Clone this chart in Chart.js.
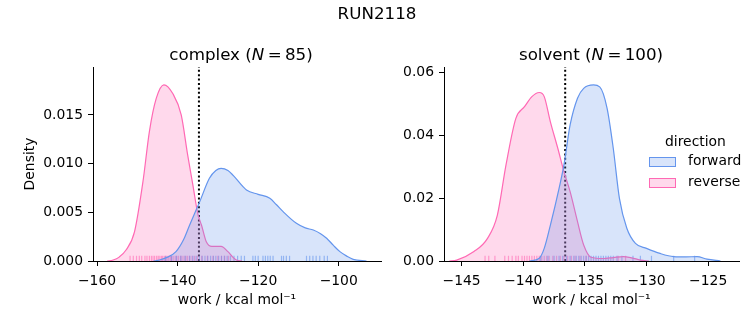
<!DOCTYPE html>
<html>
<head>
<meta charset="utf-8">
<script src="https://cdn.jsdelivr.net/npm/chart.js@4/dist/chart.umd.min.js"></script>
<style>
  body { margin: 0; background: #fff; }
  #wrap { position: relative; width: 753px; height: 325px; overflow: hidden; font-family: "DejaVu Sans", sans-serif; color: #000; }
  canvas { position: absolute; top: 0; }
  .ttl { position: absolute; font-size: 16.7px; white-space: nowrap; transform: translate(-50%, -50%); line-height: 1; }
  .leg { position: absolute; font-size: 13.9px; white-space: nowrap; line-height: 1; }
  .patch { position: absolute; width: 27px; height: 10px; box-sizing: border-box; border: 1px solid; }
</style>
</head>
<body>
<div id="wrap">
  <canvas id="complexChart" width="390" height="325" style="left:0;width:390px;height:325px"></canvas>
  <canvas id="solventChart" width="373" height="325" style="left:380px;width:373px;height:325px"></canvas>

  <div class="ttl" style="left:377px;top:13px">RUN2118</div>
  <div class="ttl" style="left:241px;top:54px">complex (<i>N</i>&#8201;=&#8201;85)</div>
  <div class="ttl" style="left:591px;top:54px">solvent (<i>N</i>&#8201;=&#8201;100)</div>

  <div class="leg" style="left:665px;top:135px">direction</div>
  <div class="patch" style="left:649px;top:157px;background:rgba(100,149,237,0.25);border-color:#6495ED"></div>
  <div class="leg" style="left:688px;top:154px">forward</div>
  <div class="patch" style="left:649px;top:178px;background:rgba(255,105,180,0.25);border-color:#FF69B4"></div>
  <div class="leg" style="left:688px;top:175px">reverse</div>
</div>

<script>
//		Colours for the two directions.
var fwdColour = '#6495ED';
var revColour = '#FF69B4';

//		complex leg: KDE curves.
var complexFwdX = [-146, -144.5, -142.5, -140.4, -138.5, -137.0, -134.5, -132.1, -130.5, -129.2, -127.5, -126.2, -122.9, -120.0, -117.1, -115.5, -113.8, -110.5, -108.3, -106.3, -104.5, -103.0, -101.3, -99.7, -98.0, -96.4, -93.1];
var complexFwdY = [0, 0.0001, 0.0004, 0.00096, 0.0022, 0.0037, 0.0061, 0.0085, 0.0093, 0.00952, 0.0093, 0.0088, 0.0073, 0.00685, 0.00644, 0.0058, 0.00507, 0.00387, 0.0034, 0.00318, 0.0028, 0.00233, 0.0016, 0.00096, 0.0005, 0.00017, 0];
var complexRevX = [-157.5, -156.0, -154.5, -152.8, -150.7, -148.6, -147.0, -145.3, -143.4, -141.2, -139.1, -137.5, -136.2, -135.0, -134.0, -132.9, -131.5, -129.2, -127.5, -126.3, -125.4, -124.0];
var complexRevY = [0, 0.0001, 0.0004, 0.00113, 0.003, 0.00815, 0.0133, 0.0167, 0.0181, 0.0172, 0.015, 0.0109, 0.0078, 0.0049, 0.0036, 0.002, 0.0015, 0.0015, 0.00096, 0.0004, 0.0001, 0];

//		solvent leg: KDE curves.
var solventFwdX = [-139.5, -138.7, -138.3, -137.8, -137.1, -136.7, -136.2, -135.6, -135.1, -134.3, -133.8, -133.2, -132.7, -132.2, -131.6, -130.9, -130.0, -128.9, -127.8, -126.8, -125.9, -125.1, -124.0];
var solventFwdY = [0, 0.0009, 0.004, 0.0114, 0.023, 0.0305, 0.0432, 0.0517, 0.0548, 0.0559, 0.0553, 0.0485, 0.0358, 0.0199, 0.0104, 0.0056, 0.004, 0.0024, 0.0014, 0.0013, 0.0014, 0.0006, 0];
var solventRevX = [-146.0, -145.4, -144.0, -142.9, -142.1, -141.4, -140.6, -139.9, -139.3, -138.7, -138.3, -137.8, -137.2, -136.7, -136.2, -135.6, -135.1, -134.5, -133.5, -132.7, -131.9, -131.2, -130.5, -129.8];
var solventRevY = [0, 0.0003, 0.003, 0.0072, 0.0146, 0.0305, 0.0453, 0.049, 0.0522, 0.0535, 0.0522, 0.0442, 0.0358, 0.0284, 0.022, 0.0125, 0.0051, 0.0012, 0.0008, 0.0011, 0.0014, 0.001, 0.0003, 0];

//		Rug ticks (individual work values).
var complexFwdRug = [-143.0, -141.5, -140.3, -139.2, -138.1, -137.0, -136.2, -135.4, -134.6, -133.9, -133.2, -132.5, -131.8, -131.1, -130.5, -129.8, -129.1, -128.4, -127.7, -126.9, -126.0, -125.1, -124.2, -123.4, -121.3, -120.7, -120.0, -118.8, -118.2, -117.6, -117.0, -116.3, -114.2, -113.7, -113.0, -112.2, -108.0, -107.2, -106.4, -105.6, -104.7, -103.6, -102.8];
var complexRevRug = [-151.8, -151.0, -150.2, -149.5, -148.9, -148.1, -147.6, -147.0, -146.5, -146.1, -145.7, -145.2, -144.8, -144.4, -144.0, -143.7, -143.3, -142.9, -142.6, -142.2, -141.8, -141.5, -141.1, -140.6, -140.2, -139.8, -139.3, -138.9, -138.4, -137.9, -137.5, -137.0, -136.4, -135.8, -135.1, -134.0, -132.6, -131.2, -130.0, -129.1, -128.3, -127.4];
var solventFwdRug = [-138.6, -138.0, -137.5, -137.1, -136.8, -136.5, -136.2, -135.9, -135.7, -135.5, -135.3, -135.1, -134.9, -134.7, -134.5, -134.3, -134.1, -133.9, -133.7, -133.5, -133.3, -133.1, -132.9, -132.7, -132.4, -132.0, -131.1, -130.5, -129.6, -127.8, -126.1];
var solventRevRug = [-143.1, -142.8, -142.3, -141.5, -141.2, -140.9, -140.6, -140.4, -140.1, -139.9, -139.7, -139.5, -139.3, -139.1, -138.9, -138.7, -138.5, -138.3, -138.1, -137.9, -137.6, -137.3, -137.0, -136.7, -136.4, -136.1, -135.8, -135.4, -134.9, -132.3, -131.7];

//		Dotted reference line (free energy estimate).
var complexCut = -134.7;
var solventCut = -136.6;

//		Axis ranges and tick values.
var complexXRange = [-161, -89.5];
var complexYMax   = 0.01993;
var complexXTicks = [-160, -140, -120, -100];
var complexYTicks = [0, 0.005, 0.010, 0.015];
var solventXRange = [-146.43, -122.5];
var solventYMax   = 0.0616;
var solventXTicks = [-145, -140, -135, -130, -125];
var solventYTicks = [0, 0.02, 0.04, 0.06];

var fontBase = { family: "'DejaVu Sans', sans-serif", size: 13.9 };

function pts(xs, ys) {
    return xs.map(function (x, i) { return { x: x, y: ys[i] }; });
}

function rugPts(vals, yPos) {
    return vals.map(function (v) { return { x: v, y: yPos }; });
}

function kdeSet(xs, ys, colour, fill) {
    return {
        data: pts(xs, ys),
        borderColor: colour,
        backgroundColor: fill,
        borderWidth: 1.2,
        pointRadius: 0,
        fill: 'origin',
        cubicInterpolationMode: 'monotone'
    };
}

function rugSet(vals, yPos, colour) {
    return {
        data: rugPts(vals, yPos),
        showLine: false,
        pointStyle: 'line',
        pointRotation: 90,
        pointRadius: 2.6,
        pointBorderWidth: 1.2,
        pointBorderColor: colour,
        pointBackgroundColor: colour
    };
}

function minusFmt(v) {
    return v < 0 ? '\u2212' + Math.abs(v) : String(v);
}

function makeChart(id, cfg) {
    var ctx = document.getElementById(id);
    var rugY = cfg.yMax * 0.0135;
    return new Chart(ctx, {
        type: 'line',
        data: {
            datasets: [
                kdeSet(cfg.fwdX, cfg.fwdY, fwdColour, 'rgba(100,149,237,0.25)'),
                kdeSet(cfg.revX, cfg.revY, revColour, 'rgba(255,105,180,0.25)'),
                rugSet(cfg.fwdRug, rugY, 'rgba(100,149,237,0.6)'),
                rugSet(cfg.revRug, rugY, 'rgba(255,105,180,0.6)'),
                {
                    data: [{ x: cfg.cut, y: 0 }, { x: cfg.cut, y: cfg.yMax }],
                    borderColor: '#000',
                    borderWidth: 2,
                    borderDash: [2, 2.4],
                    pointRadius: 0,
                    fill: false
                }
            ]
        },
        options: {
            responsive: false,
            animation: false,
            layout: { padding: { top: 67, right: cfg.padRight, left: 0, bottom: 0 } },
            plugins: { legend: { display: false }, tooltip: { enabled: false } },
            scales: {
                x: {
                    type: 'linear',
                    min: cfg.xRange[0],
                    max: cfg.xRange[1],
                    afterBuildTicks: function (s) { s.ticks = cfg.xTicks.map(function (v) { return { value: v }; }); },
                    afterFit: function (s) { s.height = 64; },
                    grid: { display: true, drawOnChartArea: false, tickLength: 5, tickColor: '#000', tickWidth: 1 },
                    border: { display: true, color: '#000', width: 1 },
                    ticks: { color: '#000', font: fontBase, padding: 7, maxRotation: 0, callback: function (v) { return minusFmt(v); } },
                    title: { display: true, text: 'work / kcal mol\u207B\u00B9', color: '#000', font: fontBase, padding: { top: 0, bottom: 16.5 } }
                },
                y: {
                    min: 0,
                    max: cfg.yMax,
                    afterBuildTicks: function (s) { s.ticks = cfg.yTicks.map(function (v) { return { value: v }; }); },
                    afterFit: function (s) { s.width = cfg.yWidth; },
                    grid: { display: true, drawOnChartArea: false, tickLength: 5, tickColor: '#000', tickWidth: 1 },
                    border: { display: true, color: '#000', width: 1 },
                    ticks: { color: '#000', font: fontBase, padding: 5, callback: function (v) { return Number(v).toFixed(cfg.dec); } },
                    title: { display: cfg.yTitle, text: 'Density', color: '#000', font: fontBase, padding: { top: 22, bottom: 0 } }
                }
            }
        }
    });
}

makeChart('complexChart', {
    fwdX: complexFwdX, fwdY: complexFwdY, revX: complexRevX, revY: complexRevY,
    fwdRug: complexFwdRug, revRug: complexRevRug, cut: complexCut,
    xRange: complexXRange, yMax: complexYMax, xTicks: complexXTicks, yTicks: complexYTicks,
    dec: 3, yWidth: 93, padRight: 9, yTitle: true
});

makeChart('solventChart', {
    fwdX: solventFwdX, fwdY: solventFwdY, revX: solventRevX, revY: solventRevY,
    fwdRug: solventFwdRug, revRug: solventRevRug, cut: solventCut,
    xRange: solventXRange, yMax: solventYMax, xTicks: solventXTicks, yTicks: solventYTicks,
    dec: 2, yWidth: 64, padRight: 14, yTitle: false
});
</script>
</body>
</html>
